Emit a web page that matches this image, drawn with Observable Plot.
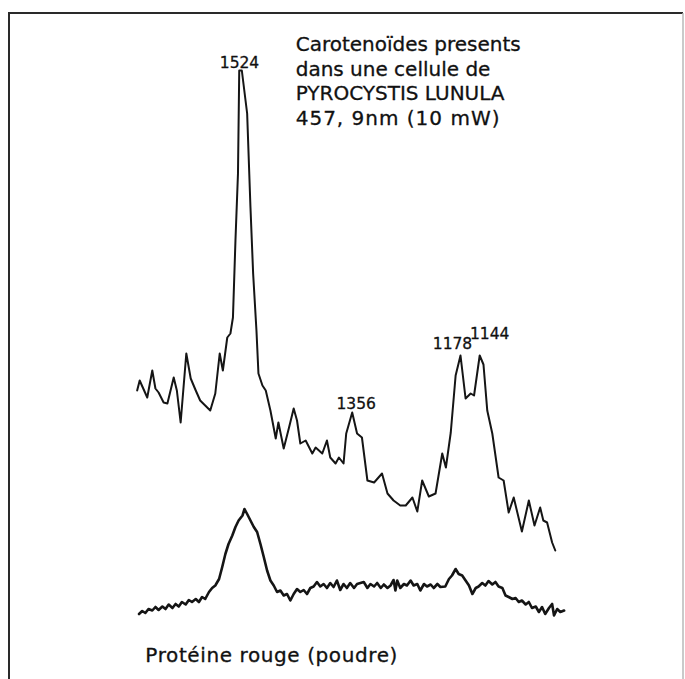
<!DOCTYPE html>
<html>
<head>
<meta charset="utf-8">
<script src="https://cdn.jsdelivr.net/npm/d3@7"></script>
<script src="https://cdn.jsdelivr.net/npm/@observablehq/plot@0.6"></script>
<style>
  html, body { margin: 0; padding: 0; background: #fff; }
  #chart { width: 685px; height: 679px; overflow: hidden; }
</style>
</head>
<body>
<div id="chart"></div>
<script>
// Raman spectrum of carotenoids in a Pyrocystis lunula cell (upper trace)
// and of the red protein powder (lower trace). Wavenumbers in cm-1,
// intensity in arbitrary units.
const cellWavenumber = [1688,1684,1672,1664,1659,1654,1646,1640,1630,1625,1619,1610,1603,1595,1588,1580,1572,1564,1557,1552,1545,1540,1536,1532,1528,1526,1522,1514,1509,1505,1500,1497,1491,1486,1479,1471,1467,1459,1451,1444,1439,1434,1426,1416,1411,1401,1394,1389,1381,1376,1369,1365,1356,1348,1340,1331,1320,1307,1298,1288,1277,1268,1257,1249,1241,1230,1219,1208,1202,1194,1186,1178,1169,1160,1154,1144,1138,1132,1124,1114,1106,1098,1090,1077,1066,1057,1048,1043,1037,1029,1024];
const cellIntensity = [46,48,44.6,50,46.4,45.6,43.6,43.4,48.6,46,39.6,53.4,48.4,46,44,43,42,45.4,53.4,50,56.6,57.4,60.6,76,89.4,110,110,101.4,82.6,69.4,58,49.4,47,46,42,36.4,39.6,34.4,38.6,42.4,40,35.4,36,33.4,34.6,33.4,36,32.6,31.4,32.6,31.4,37.4,41.6,37.4,36.6,28,27.6,29.4,25.4,24,23,23,24.6,21.8,28,24.8,25.4,33.4,30.6,37.6,49,53,44.4,45.4,45,53,51.2,42,37.4,28.6,28,21.6,24.6,17.8,24,19,22.6,20,19.6,15.6,14];

const proteinWavenumber = [1685,1680,1675,1670,1664,1659,1654,1648,1643,1638,1632,1627,1622,1617,1611,1606,1601,1595,1590,1585,1580,1574,1569,1564,1558,1553,1548,1543,1537,1532,1527,1521,1518,1514,1509,1504,1499,1494,1489,1484,1479,1474,1469,1464,1459,1454,1449,1444,1439,1434,1429,1424,1419,1414,1409,1404,1399,1394,1389,1384,1379,1374,1369,1364,1359,1353,1348,
  1337,1331,1326,1320,1315,1309,1304,1298,1293,1288,1285,1282,1277,1271,1266,1260,1255,1249,1244,1238,1233,1227,1222,1216,1211,1203,1197,1192,1186,1181,1175,1169,1163,1157,1151,1146,1140,1135,1130,1124,1119,1114,1108,1103,1098,1092,1087,1082,1077,1071,1066,1061,1055,1050,1045,1040,1034,1029,1026,1021,1016,1010];
const proteinIntensity = [1.3,1.9,1.5,2.3,2.0,2.7,2.1,2.8,2.3,3.2,2.5,3.3,2.8,3.7,3.2,4.1,3.7,4.3,3.7,4.7,4.3,5.7,6.5,7.0,8.3,10.7,13.3,15.3,17.0,18.7,20.0,21.0,22.3,21.3,20.0,18.7,17.7,15.3,12.7,10.0,8.0,7.0,5.7,6.0,5.0,5.3,4.0,5.3,6.3,5.7,6.1,5.3,6.5,6.8,7.7,6.8,7.3,6.5,7.5,6.7,8.0,6.1,7.3,6.5,7.5,6.5,7.3,
  7.7,6.5,7.3,6.8,7.5,6.5,7.2,6.5,7.0,8.1,6.0,8.0,6.5,7.3,7.0,8.0,7.0,7.3,6.0,7.3,6.8,7.2,6.5,7.3,6.7,6.8,8.3,9.0,10.3,9.3,9.0,8.0,7.0,5.3,6.5,6.8,7.5,7.0,7.9,7.2,7.7,6.8,6.5,5.0,4.7,4.3,4.5,3.7,4.0,3.2,3.7,2.5,2.8,1.7,2.7,1.3,2.5,3.3,1.0,2.3,1.7,2.0];

// Labelled carotenoid bands
const peakWavenumbers = [1524, 1356, 1178, 1144];
const peakIntensities = [110, 41.6, 53, 53];

const titleLines = ["Carotenoïdes presents", "dans une cellule de", "PYROCYSTIS LUNULA", "457, 9nm (10 mW)"];
const proteinLabel = "Protéine rouge (poudre)";

const cell = cellWavenumber.map((w, i) => ({w, I: cellIntensity[i]}));
const protein = proteinWavenumber.map((w, i) => ({w, I: proteinIntensity[i]}));
const peaks = peakWavenumbers.map((w, i) => ({w, I: peakIntensities[i], label: String(w)}));

// label nudges (px) so the close 1178/1144 pair stays legible
const nudge = {1524: [-1, -3], 1356: [4, -4], 1178: [-8, -7], 1144: [10, -17]};

const font = "DejaVu Sans";

const plot = Plot.plot({
  width: 685,
  height: 679,
  marginTop: 70,
  marginBottom: 59,
  // spectrometer axis calibrated on the labelled bands (piecewise linear)
  x: {
    type: "linear",
    domain: [1700, 1524, 1356, 1178, 1144, 1000],
    range: [129.1, 240, 351.7, 460, 479.2, 569.9],
    axis: null
  },
  y: {domain: [0, 110], axis: null},
  style: {fontFamily: font, background: "#fff", color: "#111", overflow: "visible"},
  marks: [
    Plot.line(cell, {x: "w", y: "I", stroke: "#151515", strokeWidth: 2, strokeLinejoin: "round"}),
    Plot.line(protein, {x: "w", y: "I", stroke: "#151515", strokeWidth: 2.6, strokeLinejoin: "round"}),
    ...peaks.map(p => Plot.text([p], {
      x: "w", y: "I", text: "label",
      dx: nudge[p.w][0], dy: nudge[p.w][1],
      lineAnchor: "bottom", textAnchor: "middle",
      fontSize: 15.5, fill: "#111", stroke: "#111", strokeWidth: 0.3
    })),
    Plot.text([titleLines.join("\n")], {
      x: 1441, y: 117.4, text: d => d,
      textAnchor: "start", lineAnchor: "top", lineHeight: 1.235,
      fontSize: 20, fill: "#111", stroke: "#111", strokeWidth: 0.3
    }),
    Plot.text([proteinLabel], {
      x: 1675, y: -8.2, text: d => d,
      textAnchor: "start", lineAnchor: "bottom",
      fontSize: 20, fill: "#111", stroke: "#111", strokeWidth: 0.3
    })
  ]
});

// a little wider lettering for the caption and the excitation line
const svg = d3.select(plot);
svg.selectAll("text").filter(function () {
  return this.textContent === proteinLabel;
}).style("letter-spacing", "0.6px");
svg.selectAll("tspan").filter(function () {
  return this.textContent === titleLines[3];
}).style("letter-spacing", "1px");

// drawing border
svg.append("path")
  .attr("d", "M9,690V13H683")
  .attr("fill", "none")
  .attr("stroke", "#2a2a2a")
  .attr("stroke-width", 2);
svg.append("path")
  .attr("d", "M683,13V690")
  .attr("fill", "none")
  .attr("stroke", "#b8b8b8")
  .attr("stroke-width", 1.5);

document.getElementById("chart").append(plot);
</script>
</body>
</html>
